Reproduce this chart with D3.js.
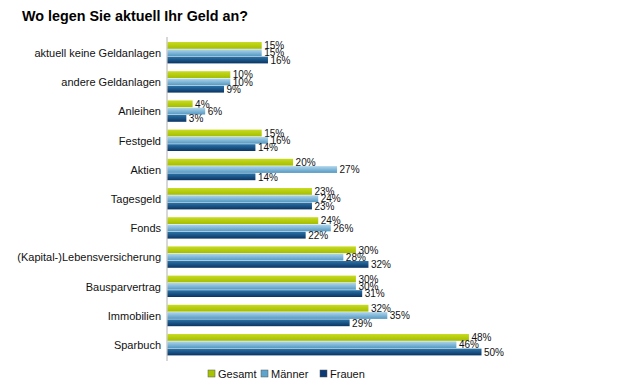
<!DOCTYPE html>
<html><head><meta charset="utf-8">
<script src="https://cdn.jsdelivr.net/npm/d3@7"></script>
<style>body{margin:0;background:#fff}svg{display:block;font-family:"Liberation Sans",Arial,sans-serif}</style>
</head><body><svg id="c" width="640" height="382"></svg>
<script>
const categories = ["aktuell keine Geldanlagen","andere Geldanlagen","Anleihen","Festgeld","Aktien","Tagesgeld","Fonds","(Kapital-)Lebensversicherung","Bausparvertrag","Immobilien","Sparbuch"];
const seriesNames = ["Gesamt","Männer","Frauen"];
const gesamt = [15,10,4,15,20,23,24,30,30,32,48];
const maenner = [15,10,6,16,27,24,26,28,30,35,46];
const frauen = [16,9,3,14,14,23,22,32,31,29,50];
const values = [gesamt, maenner, frauen];

const svg = d3.select("#c");
const defs = svg.append("defs");
const grads = [
  ["g0", "#c8dc20", "#a4bc00"],
  ["g1", "#b0d6ec", "#5498c2"],
  ["g2", "#2c74a8", "#0a3564"]
];
grads.forEach(([id,a,b])=>{
  const g = defs.append("linearGradient").attr("id",id).attr("x1",0).attr("y1",0).attr("x2",0).attr("y2",1);
  g.append("stop").attr("offset","0%").attr("stop-color",a);
  g.append("stop").attr("offset","100%").attr("stop-color",b);
});
const legendColors = ["#a8c400","#5ea4cc","#0c3a74"];

svg.append("text").attr("x",22).attr("y",21).attr("font-size",15.5).attr("font-weight","bold").attr("fill","#000")
  .attr("textLength",226).attr("lengthAdjust","spacingAndGlyphs").text("Wo legen Sie aktuell Ihr Geld an?");

const x = d3.scaleLinear().domain([0,50]).range([167,481]);
const y = d3.scaleBand().domain(categories).range([38.35,359.55]).paddingInner(0.25).paddingOuter(0.125);
const ys = d3.scaleBand().domain(seriesNames).range([0,y.bandwidth()]);

svg.append("line").attr("x1",167).attr("x2",167).attr("y1",37).attr("y2",361).attr("stroke","#b0b0b0").attr("stroke-width",1);

categories.forEach((c,i)=>{
  const g = svg.append("g").attr("transform",`translate(0,${y(c)})`);
  g.append("text").attr("x",161).attr("y",y.bandwidth()/2+4).attr("text-anchor","end").attr("font-size",11).attr("fill","#111").text(c);
  seriesNames.forEach((s,j)=>{
    const v = values[j][i];
    g.append("rect").attr("x",x(0)+0.5).attr("y",ys(s)).attr("width",x(v)-x(0)).attr("height",ys.bandwidth()-0.5).attr("fill",`url(#g${j})`);
    g.append("text").attr("x",x(v)+3).attr("y",ys(s)+ys.bandwidth()/2+3.5).attr("font-size",10).attr("fill","#111").text(v+"%");
  });
});

const legX = [208,261,320];
seriesNames.forEach((s,j)=>{
  svg.append("rect").attr("x",legX[j]).attr("y",370).attr("width",7).attr("height",7).attr("fill",legendColors[j]).attr("stroke","#555").attr("stroke-width",0.5);
  svg.append("text").attr("x",legX[j]+10).attr("y",378).attr("font-size",11).attr("fill","#111").text(s);
});
</script></body></html>
